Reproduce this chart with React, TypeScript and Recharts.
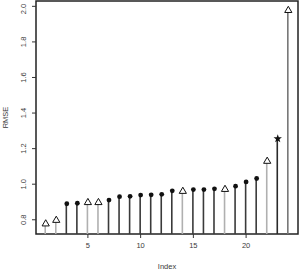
import { ComposedChart, Bar, Scatter, XAxis, YAxis, Cell, ReferenceArea } from 'recharts'

const indices = [1, 2, 3, 4, 5, 6, 7, 8, 9, 10, 11, 12, 13, 14, 15, 16, 17, 18, 19, 20, 21, 22, 23, 24]
const rmse = [
  0.78, 0.8, 0.89, 0.893, 0.9, 0.9, 0.911, 0.93, 0.932, 0.939, 0.94, 0.943,
  0.963, 0.963, 0.97, 0.97, 0.974, 0.974, 0.989, 1.013, 1.032, 1.132, 1.256, 1.98,
]
// 'o' = open triangle, 'd' = filled dot, 's' = star
const kinds = ['o', 'o', 'd', 'd', 'o', 'o', 'd', 'd', 'd', 'd', 'd', 'd', 'd', 'o', 'd', 'd', 'd', 'o', 'd', 'd', 'd', 'o', 's', 'o']
const xTicks = [5, 10, 15, 20]
const yTicks = [0.8, 1.0, 1.2, 1.4, 1.6, 1.8, 2.0]

const data = indices.map((i, k) => ({ index: i, rmse: rmse[k], kind: kinds[k] }))

const stemColor: Record<string, string> = { o: '#b0b0b0', d: '#3a3a3a', s: '#2a2a2a' }

const FONT = '"Liberation Sans", Arial, sans-serif'
const TEXT = '#3a3a3a'

function Marker(props: any) {
  const { cx, cy, payload } = props
  if (payload.kind === 'd') return <circle cx={cx} cy={cy} r={2.4} fill="#111" />
  if (payload.kind === 'o') {
    return (
      <path
        d={`M${cx},${cy - 3.6} L${cx + 3.6},${cy + 2.6} L${cx - 3.6},${cy + 2.6} Z`}
        fill="#fff"
        stroke="#111"
        strokeWidth={1}
      />
    )
  }
  const pts: string[] = []
  for (let j = 0; j < 10; j++) {
    const r = j % 2 === 0 ? 4.4 : 1.8
    const a = -Math.PI / 2 + (j * Math.PI) / 5
    pts.push(`${cx + r * Math.cos(a)},${cy + r * Math.sin(a)}`)
  }
  return <polygon points={pts.join(' ')} fill="#111" />
}

function YTick(props: any) {
  const { x, y, payload } = props
  return (
    <text
      x={x}
      y={y}
      transform={`rotate(-90, ${x}, ${y})`}
      textAnchor="middle"
      fontSize={7.5}
      fill={TEXT}
      fontFamily={FONT}
    >
      {payload.value.toFixed(1)}
    </text>
  )
}

export default function App() {
  return (
    <div style={{ width: 300, height: 272 }}>
      <style>{`body{margin:0}`}</style>
      <ComposedChart
        width={300}
        height={272}
        data={data}
        margin={{ top: 1, right: 2, bottom: 0, left: 0 }}
      >
        <XAxis
          dataKey="index"
          type="number"
          domain={[0.08, 24.92]}
          ticks={xTicks}
          height={38}
          tickSize={4}
          tickMargin={5}
          axisLine={false}
          tickLine={{ stroke: '#333' }}
          tick={{ fontSize: 7.5, fill: TEXT, fontFamily: FONT }}
          label={{
            content: ({ viewBox }: any) => (
              <text
                x={viewBox.x + viewBox.width / 2}
                y={viewBox.y + viewBox.height - 3}
                textAnchor="middle"
                fontSize={7.5}
                fill={TEXT}
                fontFamily={FONT}
              >
                Index
              </text>
            ),
          }}
        />
        <YAxis
          type="number"
          domain={[0.72, 2.03]}
          ticks={yTicks}
          width={36}
          tickSize={4}
          tickMargin={6}
          axisLine={false}
          tickLine={{ stroke: '#333' }}
          tick={<YTick />}
          label={{
            content: ({ viewBox }: any) => {
              const cx = viewBox.x + 8
              const cy = viewBox.y + viewBox.height / 2
              return (
                <text
                  x={cx}
                  y={cy}
                  transform={`rotate(-90, ${cx}, ${cy})`}
                  textAnchor="middle"
                  fontSize={7.5}
                  fill={TEXT}
                  fontFamily={FONT}
                >
                  RMSE
                </text>
              )
            },
          }}
        />
        <Bar dataKey="rmse" barSize={1.6} isAnimationActive={false}>
          {data.map((d, i) => (
            <Cell key={i} fill={i === data.length - 1 ? '#777' : stemColor[d.kind]} />
          ))}
        </Bar>
        <Scatter dataKey="rmse" shape={<Marker />} isAnimationActive={false} />
        <ReferenceArea x1={0.08} x2={24.92} y1={0.72} y2={2.03} fill="none" stroke="#222" strokeWidth={1.5} ifOverflow="extendDomain" />
      </ComposedChart>
    </div>
  )
}
